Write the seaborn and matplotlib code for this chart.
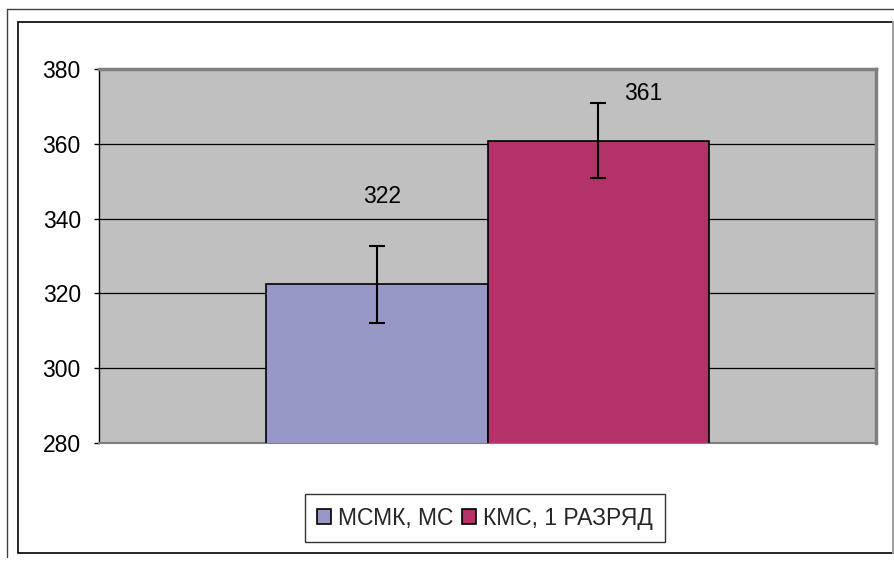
import matplotlib
matplotlib.use("Agg")
import matplotlib.pyplot as plt
import seaborn as sns
import pandas as pd
from matplotlib.lines import Line2D
from matplotlib.patches import Rectangle

# values
series = ["МСМК, МС", "КМС, 1 РАЗРЯД"]
means = [322.4, 360.8]
errors = [10.3, 10.0]
labels = ["322", "361"]
colors = ["#9898C8", "#B33268"]
yticks = [280, 300, 320, 340, 360, 380]

sns.set_theme(style="white")
plt.rcParams["font.family"] = ["Liberation Sans", "DejaVu Sans"]

W, H = 894, 561
PT = 0.72  # points per pixel at dpi 100
fig = plt.figure(figsize=(W / 100, H / 100), dpi=100)
fig.patch.set_facecolor("white")

# outer frame lines and inner chart-area box
fig.add_artist(Line2D([7 / W, 1], [1 - 9 / H, 1 - 9 / H], color="#404040", lw=1))
fig.add_artist(Line2D([7 / W, 7 / W], [1 - 9 / H, 1 - 557 / H], color="#404040", lw=1))
fig.add_artist(Rectangle((18 / W, 1 - 553 / H), (893 - 18) / W, (553 - 22) / H,
                         transform=fig.transFigure, fill=False, edgecolor="black", lw=1.2))
fig.add_artist(Line2D([893 / W, 893 / W], [1 - 22 / H, 1 - 553 / H], color="#A0A0A0", lw=1.5))

left, right, top, bottom = 99, 876, 69, 443
ax = fig.add_axes([left / W, 1 - bottom / H, (right - left) / W, (bottom - top) / H])
ax.set_facecolor("#C0C0C0")

df = pd.DataFrame({"group": ["g", "g"], "series": series, "value": means})
sns.barplot(data=df, x="group", y="value", hue="series", hue_order=series,
            palette=colors, saturation=1, width=0.571, dodge=True, edgecolor="black",
            linewidth=1.2, legend=False, ax=ax, zorder=3)

ax.set_xlim(-0.5, 0.5)
ax.set_ylim(280, 380)
ax.set_yticks(yticks)
ax.set_xticks([])
ax.set_xlabel("")
ax.set_ylabel("")
ax.tick_params(axis="y", labelsize=16.5, length=3.6, width=1, direction="out",
               left=True, pad=9.5, colors="black")
for y in yticks[1:-1]:
    ax.axhline(y, color="black", lw=0.9, zorder=1)

for s in ["top", "right"]:
    ax.spines[s].set_color("#808080")
    ax.spines[s].set_linewidth(2.5)
ax.spines["bottom"].set_color("#808080")
ax.spines["bottom"].set_linewidth(1.5)
ax.spines["left"].set_color("black")
ax.spines["left"].set_linewidth(1)

bars = sorted(ax.patches, key=lambda p: p.get_x())[:len(means)]
label_dx = [5.5, 45]   # px offsets of the data labels
label_dy = [49, 10]
for bar, m, e, lab, dx, dy in zip(bars, means, errors, labels, label_dx, label_dy):
    cx = bar.get_x() + bar.get_width() / 2
    ax.errorbar(cx, m, yerr=e, fmt="none", ecolor="black", elinewidth=1.5,
                capsize=6, capthick=1.5, zorder=4)
    ax.annotate(lab, (cx, m + e), xytext=(dx * PT, dy * PT),
                textcoords="offset points", ha="center", va="center",
                fontsize=16.5, color="black")

handles = [Rectangle((0, 0), 1, 1, facecolor=c, edgecolor="black", lw=1.2) for c in colors]
leg = fig.legend(handles, series, loc="center", bbox_to_anchor=(485 / W, 1 - 518 / H),
                 ncol=2, frameon=True, fancybox=False, fontsize=16.5,
                 handlelength=0.6, handleheight=0.6, handletextpad=0.3,
                 columnspacing=0.4, borderpad=0.55, borderaxespad=0)
leg.get_frame().set_edgecolor("black")
leg.get_frame().set_linewidth(1)

fig.savefig("out.png", dpi=100)
